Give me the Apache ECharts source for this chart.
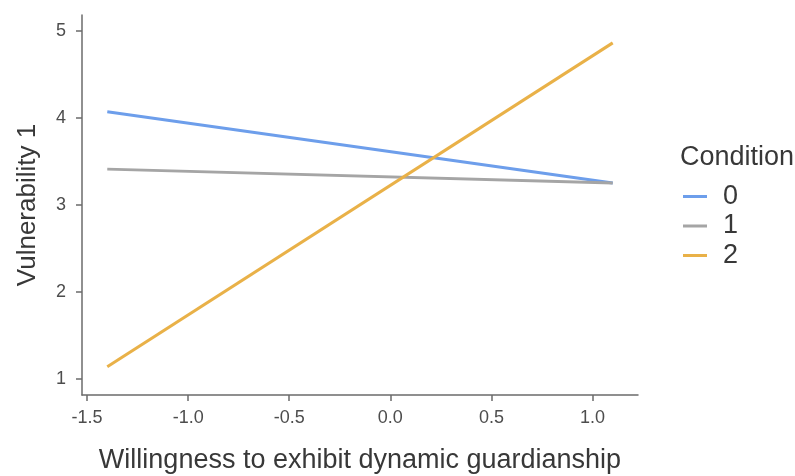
<!DOCTYPE html>
<html>
<head>
<meta charset="utf-8">
<script src="https://cdn.jsdelivr.net/npm/echarts@6/dist/echarts.min.js"></script>
<style>html,body{margin:0;padding:0;background:#fff}#c{width:795px;height:476px}</style>
</head>
<body>
<div id="c"></div>
<script>
const conditions = ['0', '1', '2'];
const xValues = [-1.4, 1.1];
const cond0 = [4.07, 3.25];
const cond1 = [3.41, 3.25];
const cond2 = [1.14, 4.86];
const xTicks = [-1.5, -1.0, -0.5, 0.0, 0.5, 1.0];
const yTicks = [1, 2, 3, 4, 5];
const colors = ['#6d9eeb', '#a5a5a5', '#e9b148'];

const seriesValues = [cond0, cond1, cond2];
const chart = echarts.init(document.getElementById('c'));
const axisColor = '#6b6b6b';
const font = 'Liberation Sans';
chart.setOption({
  animation: false,
  color: colors,
  title: {
    text: 'Condition', left: 675, top: 139,
    textStyle: { fontFamily: font, fontSize: 27, fontWeight: 'normal', color: '#383838' }
  },
  legend: {
    orient: 'vertical', left: 678, top: 177,
    data: conditions,
    icon: 'rect', itemWidth: 24, itemHeight: 3, itemGap: 0.5,
    textStyle: { fontFamily: font, fontSize: 27, color: '#383838', lineHeight: 29, padding: [0, 0, 0, 11] }
  },
  grid: { left: 82, right: 157, top: 15, bottom: 81, containLabel: false, outerBoundsMode: 'none' },
  xAxis: {
    type: 'value', min: -1.525, max: 1.225,
    name: 'Willingness to exhibit dynamic guardianship',
    nameLocation: 'middle', nameGap: 52,
    nameTextStyle: { fontFamily: font, fontSize: 27, color: '#383838' },
    axisLine: { show: true, onZero: false, lineStyle: { color: axisColor, width: 1.5 } },
    axisTick: { show: true, length: 6, lineStyle: { color: axisColor, width: 1.5 },
      customValues: xTicks },
    axisLabel: { margin: 14, fontFamily: font, fontSize: 18, color: '#4d4d4d',
      customValues: xTicks, formatter: v => v.toFixed(1) },
    splitLine: { show: false }
  },
  yAxis: {
    type: 'value', min: 0.816, max: 5.18,
    name: 'Vulnerability 1',
    nameLocation: 'middle', nameGap: 41,
    nameTextStyle: { fontFamily: font, fontSize: 26, color: '#383838' },
    axisLine: { show: true, onZero: false, lineStyle: { color: axisColor, width: 1.5 } },
    axisTick: { show: true, length: 6, lineStyle: { color: axisColor, width: 1.5 },
      customValues: yTicks },
    axisLabel: { margin: 16, fontFamily: font, fontSize: 18, color: '#4d4d4d',
      customValues: yTicks, formatter: v => String(v) },
    splitLine: { show: false }
  },
  series: conditions.map((c, i) => ({
    name: c, type: 'line', showSymbol: false, symbol: 'none',
    lineStyle: { width: 3, color: colors[i] },
    itemStyle: { color: colors[i] },
    data: xValues.map((x, j) => [x, seriesValues[i][j]])
  }))
});
</script>
</body>
</html>
